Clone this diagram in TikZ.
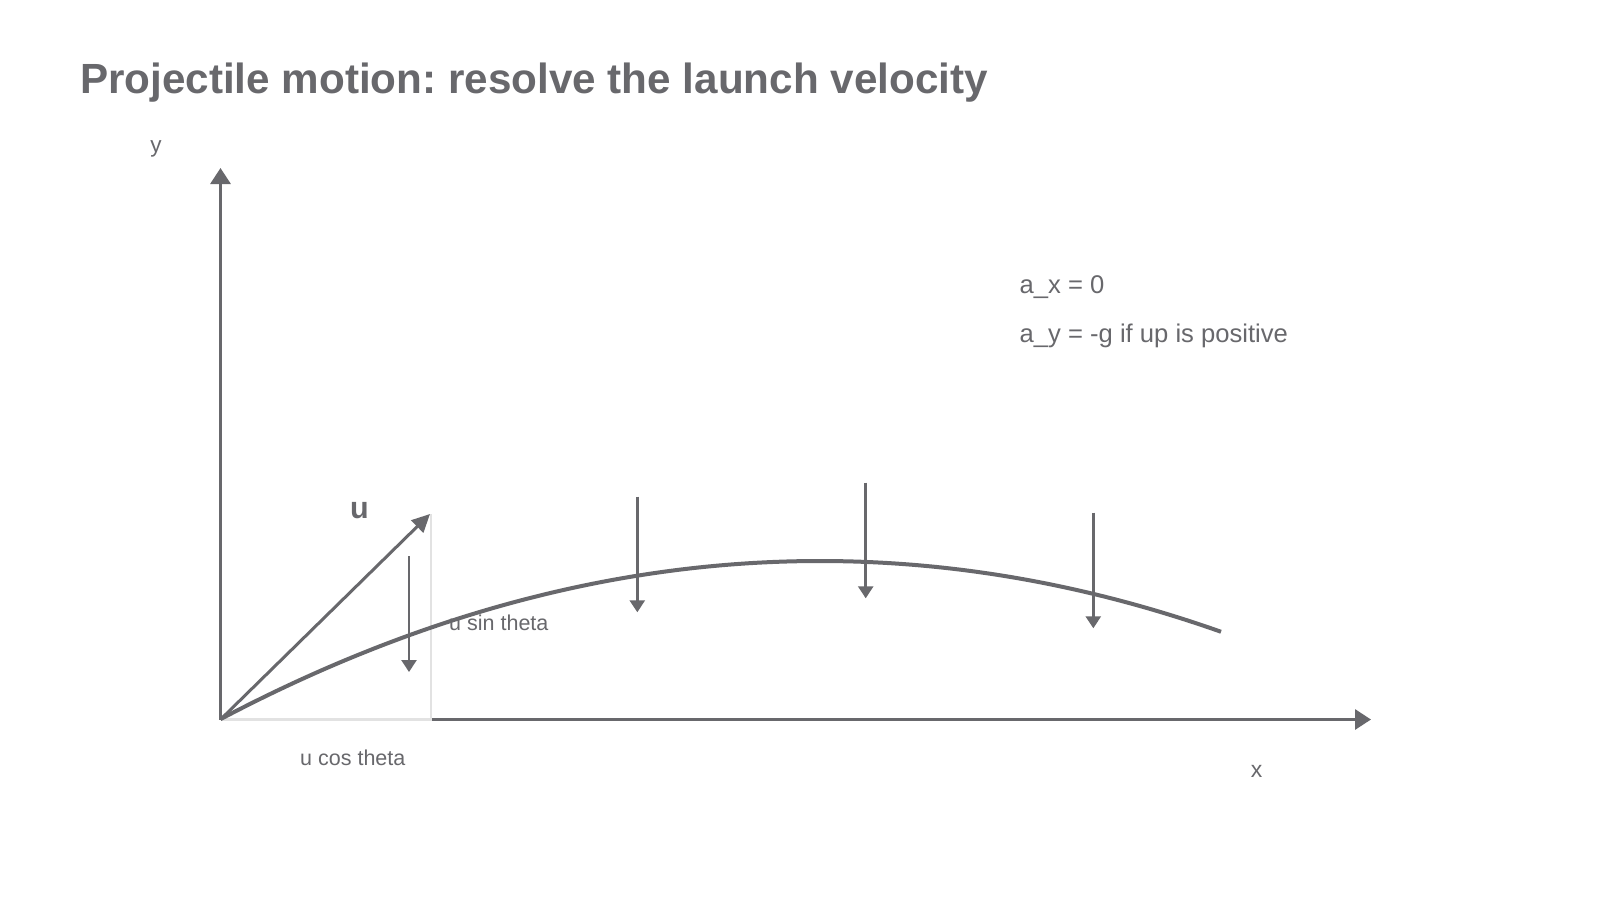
\documentclass[tikz,border=0pt]{standalone}
\usepackage{fontspec}
\setmainfont{Liberation Sans}
\usetikzlibrary{arrows.meta}
\definecolor{ink}{RGB}{104,104,108}
\definecolor{pale}{RGB}{226,226,226}
\frenchspacing
\begin{document}
\begin{tikzpicture}[x=1pt,y=-1pt,
  txt/.style={inner sep=0pt, text=ink, font=\fontsize{25.6}{30}\selectfont},
  small/.style={inner sep=0pt, text=ink, font=\fontsize{21.5}{25}\selectfont},
  axis/.style={draw=ink, line width=3pt, -{Triangle[length=16pt,width=20pt]}},
  vec/.style={draw=ink, line width=3pt, -{Triangle[length=18pt,width=17pt]}},
  grav/.style={draw=ink, line width=2.6pt, -{Triangle[length=12pt,width=15pt]}},
  path/.style={draw=ink, line width=4pt},
  guide/.style={draw=pale, line width=2.2pt}]
\fill[white] (0,0) rectangle (1600,900);
\useasboundingbox (0,0) rectangle (1600,900);

% title
\node[inner sep=0pt, anchor=base west, text=ink, font=\fontsize{42.2}{50}\selectfont\bfseries] (title) at (80,93.3) {Projectile motion: resolve the launch velocity};

% reference points
\coordinate (O) at (220.5,719.5);
\coordinate (ytip) at (220.5,168);
\coordinate (xtip) at (1371,719.5);
\coordinate (utip) at (430,514);
\coordinate (C) at (431,719.5);
\coordinate (T) at (431,514);

% axes
\draw[axis] (O) -- (ytip);
\draw[axis] (O) -- (xtip);
\node[txt, anchor=base, font=\fontsize{22.5}{26}\selectfont] (ylab) at (156,152) {y};
\node[txt, anchor=base, font=\fontsize{23}{26}\selectfont] (xlab) at (1256.5,777) {x};

% component guides
\draw[guide] (O) -- (C) -- (T);

% labels
\node[small, anchor=base west] (ucos) at (300,765) {u cos theta};
\node[small, anchor=base west] (usin) at (449,630) {u sin theta};
\node[inner sep=0pt, anchor=base west, text=ink, font=\fontsize{30.5}{36}\selectfont\bfseries] (ulab) at (350,518) {u};

\node[txt, anchor=base west] (ax) at (1019.5,293.3) {a\_x = 0};
\node[txt, anchor=base west] (ay) at (1019.5,342.7) {a\_y = -g if up is positive};

% trajectory
\draw[path] plot[domain=220.5:1221, samples=90, smooth] (\x,{561+4.4*((\x-820)/100)^2});

% launch velocity
\draw[vec] (O) -- (utip);

% gravity arrows
\coordinate (g0a) at (409,556);   \coordinate (g0b) at (409,672);
\coordinate (g1a) at (637.3,496.7); \coordinate (g1b) at (637.3,612.3);
\coordinate (g2a) at (865.7,482.7); \coordinate (g2b) at (865.7,598.3);
\coordinate (g3a) at (1093.3,512.7); \coordinate (g3b) at (1093.3,628.3);
\draw[grav] (g0a) -- (g0b);
\draw[grav] (g1a) -- (g1b);
\draw[grav] (g2a) -- (g2b);
\draw[grav] (g3a) -- (g3b);
\end{tikzpicture}
\end{document}
